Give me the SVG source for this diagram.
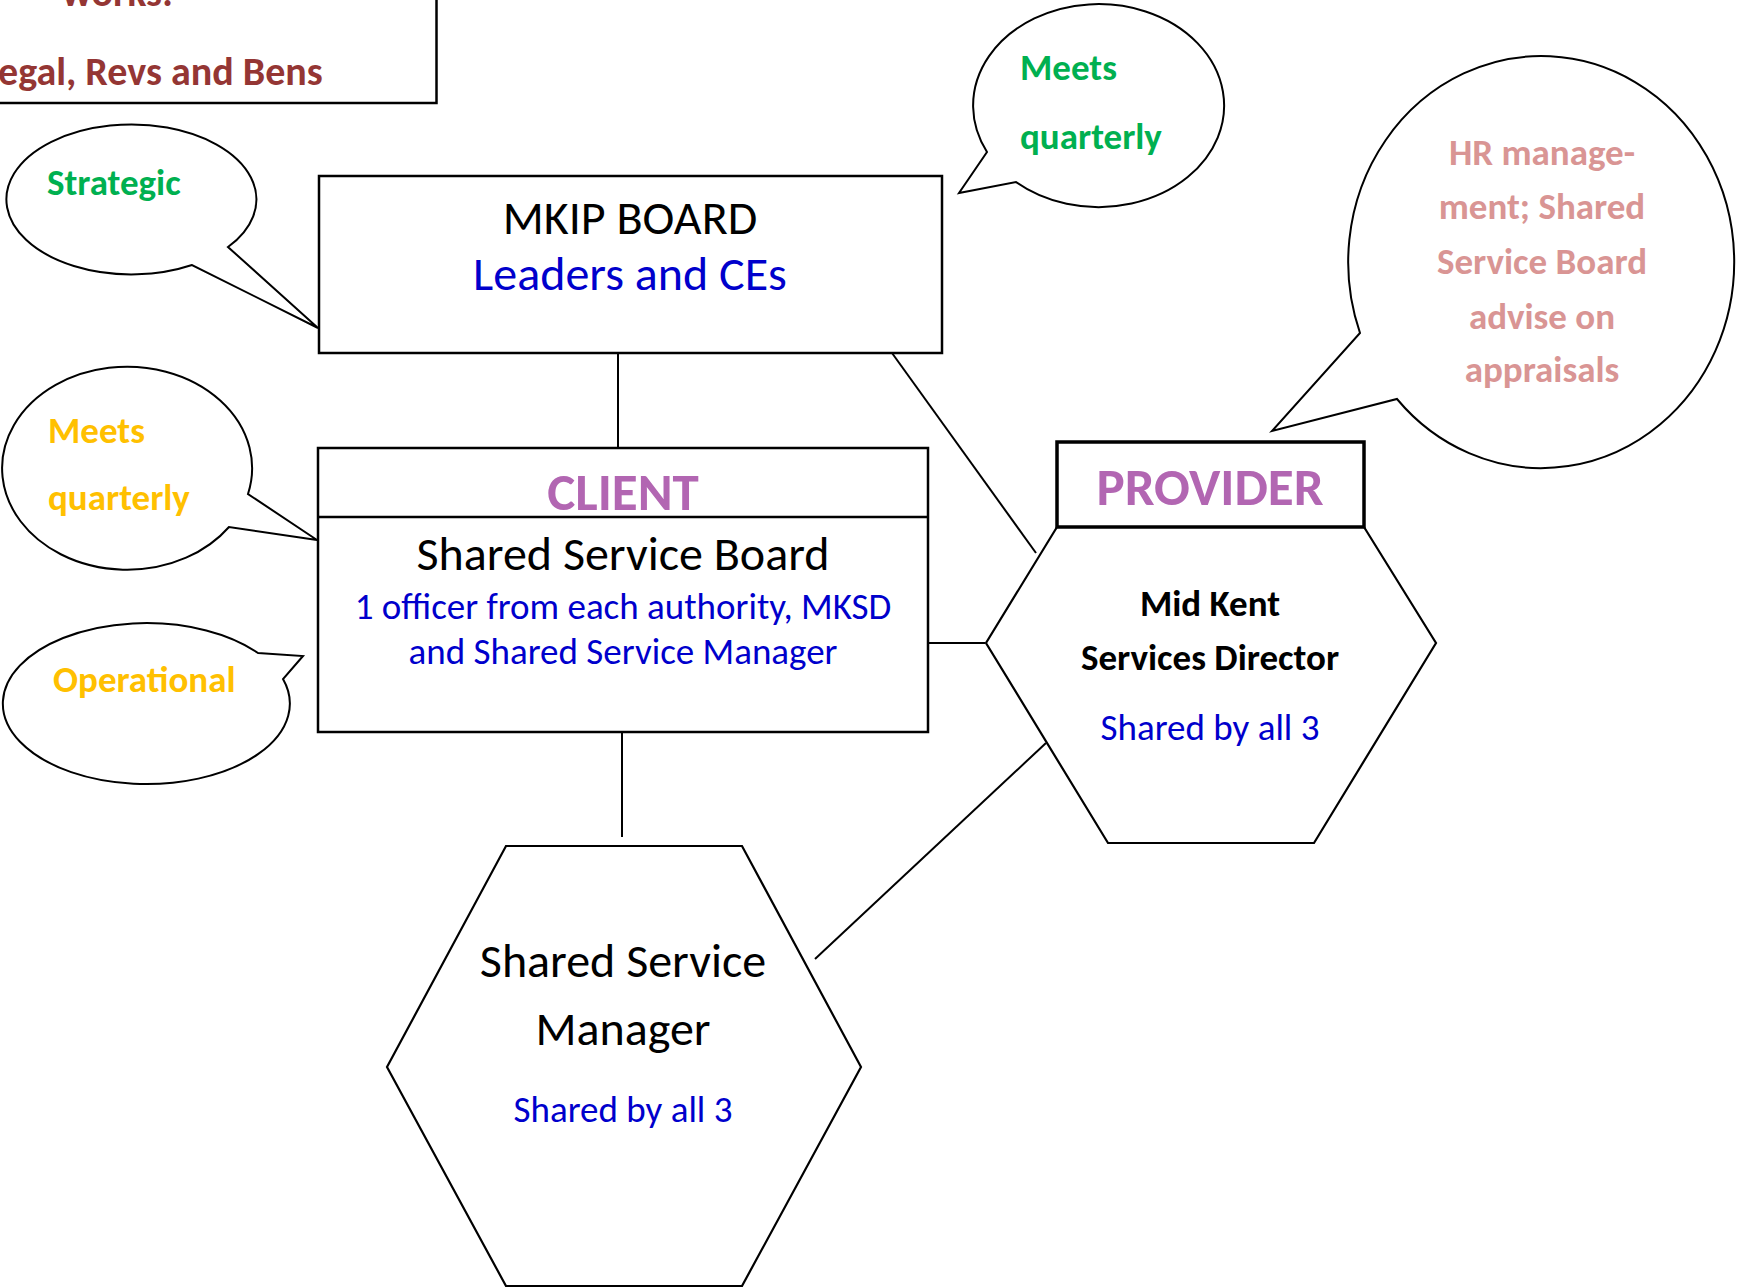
<svg xmlns="http://www.w3.org/2000/svg" width="1737" height="1287" viewBox="0 0 1737 1287">
<style>
text{font-family:Carlito,Lato,"Open Sans",sans-serif;}
.b{font-weight:bold;}
.c{text-anchor:middle;}
.box{fill:#fff;stroke:#000;stroke-width:2.5;}
.bub{fill:#fff;stroke:#000;stroke-width:2;stroke-linejoin:miter;}
.hex{fill:#fff;stroke:#000;stroke-width:2.2;}
.con line{stroke:#000;stroke-width:2;}
.blk{fill:#000;}
.blu{fill:#0000CC;}
.grn{fill:#00B050;}
.ylw{fill:#FFC000;}
.red{fill:#943634;}
.pnk{fill:#D99594;}
.pur{fill:#B266B2;}
</style>
<rect width="1737" height="1287" fill="#fff"/>
<g id="connectors" class="con">
<line x1="618" y1="353" x2="618" y2="449"/>
<line x1="892" y1="353" x2="1036" y2="553"/>
<line x1="928" y1="643" x2="985" y2="643"/>
<line x1="622" y1="732" x2="622" y2="837"/>
<line x1="1046" y1="743" x2="815" y2="959"/>
</g>
<g id="topbox">
<rect class="box" x="-10" y="-10" width="446.5" height="113"/>
<text class="b red" x="62" y="6" font-size="40">works:</text>
<text class="b red" x="-2" y="85" font-size="40">egal, Revs and Bens</text>
</g>
<g id="bubble-strategic">
<path class="bub" d="M 228 247 A 125 75 0 1 0 192 265 L 318 328 Z"/>
<text class="b grn" x="47" y="195" font-size="37">Strategic</text>
</g>
<g id="bubble-meets-green">
<path class="bub" d="M 987 152 A 125.5 101.5 0 1 1 1016 182 L 959 193 Z"/>
<text class="b grn" x="1020" y="80" font-size="37">Meets</text>
<text class="b grn" x="1020" y="149" font-size="37">quarterly</text>
</g>
<g id="bubble-hr">
<path class="bub" d="M 1360 333 A 193 206 0 1 1 1397 399 L 1272 431 Z"/>
<text class="b pnk c" x="1542" y="165" font-size="37">HR manage-</text>
<text class="b pnk c" x="1542" y="219" font-size="37">ment; Shared</text>
<text class="b pnk c" x="1542" y="274" font-size="37">Service Board</text>
<text class="b pnk c" x="1542" y="329" font-size="37">advise on</text>
<text class="b pnk c" x="1542" y="382" font-size="37">appraisals</text>
</g>
<g id="bubble-meets-yellow">
<path class="bub" d="M 248 494 A 125 101.5 0 1 0 229 527 L 317 540 Z"/>
<text class="b ylw" x="48" y="443" font-size="37">Meets</text>
<text class="b ylw" x="48" y="510" font-size="37">quarterly</text>
</g>
<g id="bubble-operational">
<path class="bub" d="M 258 653 L 303 656 L 283 679 A 143.5 80.5 0 1 1 258 653 Z"/>
<text class="b ylw" x="53" y="692" font-size="37">Operational</text>
</g>
<g id="mkip-board">
<rect class="box" x="319" y="176" width="623" height="177"/>
<text class="blk c" x="630" y="234" font-size="48">MKIP BOARD</text>
<text class="blu c" x="630" y="290" font-size="48">Leaders and CEs</text>
</g>
<g id="client">
<rect class="box" x="318" y="448" width="610" height="284"/>
<line x1="318" y1="517" x2="928" y2="517" stroke="#000" stroke-width="2.5"/>
<text class="b pur c" x="623" y="510" font-size="53">CLIENT</text>
<text class="blk c" x="623" y="570" font-size="48">Shared Service Board</text>
<text class="blu c" x="623" y="619" font-size="37">1 officer from each authority, MKSD</text>
<text class="blu c" x="623" y="664" font-size="37">and Shared Service Manager</text>
</g>
<g id="provider">
<polygon class="hex" points="1057,527 1364,527 1436,643 1314,843 1108,843 986,643"/>
<rect x="1057" y="442" width="307" height="85" fill="#fff" stroke="#000" stroke-width="3.5"/>
<text class="b pur c" x="1210" y="505" font-size="53">PROVIDER</text>
<text class="b blk c" x="1210" y="616" font-size="37">Mid Kent</text>
<text class="b blk c" x="1210" y="670" font-size="37">Services Director</text>
<text class="blu c" x="1210" y="740" font-size="37">Shared by all 3</text>
</g>
<g id="shared-service-manager">
<polygon class="hex" points="506,846 742,846 861,1067 742,1286 506,1286 387,1067"/>
<text class="blk c" x="623" y="977" font-size="48">Shared Service</text>
<text class="blk c" x="623" y="1045" font-size="48">Manager</text>
<text class="blu c" x="623" y="1122" font-size="37">Shared by all 3</text>
</g>
</svg>
